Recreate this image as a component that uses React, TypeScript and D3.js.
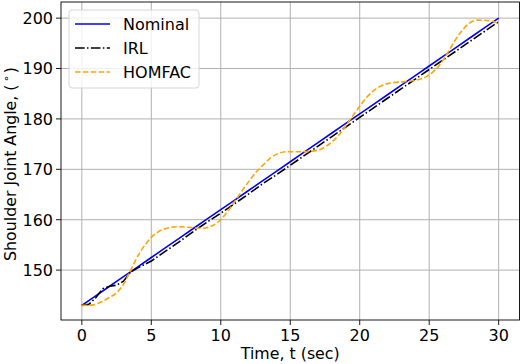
import React from "react";
import * as d3 from "d3";

const times = [0, 0.5, 1, 1.5, 2, 2.5, 3, 3.5, 4, 5, 6, 7, 8, 9, 10, 11, 12, 13, 14, 15, 16, 17, 18, 19, 20, 21, 22, 23, 24, 25, 26, 27, 28, 29, 30];
const nominal = [143, 143.95, 144.9, 145.85, 146.8, 147.75, 148.7, 149.65, 150.6, 152.5, 154.4, 156.3, 158.2, 160.1, 162, 163.9, 165.8, 167.7, 169.6, 171.5, 173.4, 175.3, 177.2, 179.1, 181, 182.9, 184.8, 186.7, 188.6, 190.5, 192.4, 194.3, 196.2, 198.1, 200];
const irl = [143, 143.2, 144.5, 146.3, 146.8, 147, 147.8, 149.6, 150.4, 151.8, 153.7, 155.6, 157.6, 159.5, 161.3, 163.2, 165.1, 167.1, 168.9, 170.8, 172.7, 174.6, 176.5, 178.4, 180.3, 182.2, 184.1, 186.0, 187.9, 189.8, 191.7, 193.6, 195.5, 197.4, 199.3];

const homfacT = [0, 0.8, 1.5, 2.0, 2.5, 3.0, 3.4, 3.8, 4.2, 4.6, 5.0, 5.5, 6.0, 7.0, 8.0, 8.75, 9.3, 9.7, 10.1, 10.6, 11.1, 11.6, 12.1, 12.6, 13.1, 13.6, 14.1, 14.8, 15.7, 16.5, 17.2, 17.9, 18.5, 19.0, 19.5, 20.0, 20.5, 21.0, 21.5, 22.0, 23.2, 24.1, 24.8, 25.3, 25.8, 26.3, 26.8, 27.3, 27.8, 28.5, 29.4, 29.9];
const homfacV = [143, 143.1, 143.8, 144.6, 145.5, 147.2, 149.3, 151.6, 153.6, 155.2, 156.5, 157.6, 158.2, 158.6, 158.4, 158.3, 158.7, 159.3, 160.3, 162.0, 164.0, 166.0, 167.9, 169.6, 171.0, 172.3, 173.1, 173.5, 173.5, 173.6, 174.0, 175.2, 176.8, 178.6, 180.6, 182.5, 184.3, 185.6, 186.5, 187.0, 187.4, 187.7, 188.4, 189.4, 190.9, 193.0, 195.3, 197.3, 198.8, 199.6, 199.5, 199.0];

const xTicks = [0, 5, 10, 15, 20, 25, 30];
const yTicks = [150, 160, 170, 180, 190, 200];
const seriesNames = ["Nominal", "IRL", "HOMFAC"];

const W = 520;
const H = 364;
const left = 61;
const right = 519.5;
const top = 2;
const bottom = 320;
const FONT = "DejaVu Sans, sans-serif";

export default function App() {
  const x = d3.scaleLinear().domain([-1.5, 31.5]).range([left, right]);
  const y = d3.scaleLinear().domain([140.1, 203.2]).range([bottom, top]);

  const line = d3.line<[number, number]>()
    .x(d => x(d[0]))
    .y(d => y(d[1]));

  const nomPath = line(times.map((t, i) => [t, nominal[i]]))!;
  const irlPath = line(times.map((t, i) => [t, irl[i]]))!;
  const homPath = d3.line<[number, number]>()
    .x(d => x(d[0]))
    .y(d => y(d[1]))
    .curve(d3.curveMonotoneX)(homfacT.map((t, i) => [t, homfacV[i]]))!;

  const styles = [
    { stroke: "#0000ff", dash: "none" },
    { stroke: "#000000", dash: "9.6,2.4,1.5,2.4" },
    { stroke: "#ffa500", dash: "5.5,2.4" },
  ];

  return (
    <svg width={W} height={H} style={{ position: "absolute", left: 0, top: 0 }}>
      <rect width={W} height={H} fill="#fff" />
      {/* grid */}
      {xTicks.map(t => (
        <line key={"gx" + t} x1={x(t)} x2={x(t)} y1={top} y2={bottom} stroke="#b0b0b0" strokeWidth={1} />
      ))}
      {yTicks.map(t => (
        <line key={"gy" + t} x1={left} x2={right} y1={y(t)} y2={y(t)} stroke="#b0b0b0" strokeWidth={1} />
      ))}

      <g fill="none" strokeWidth={1.6}>
        <path d={nomPath} stroke={styles[0].stroke} />
        <path d={irlPath} stroke={styles[1].stroke} strokeDasharray={styles[1].dash} />
        <path d={homPath} stroke={styles[2].stroke} strokeDasharray={styles[2].dash} />
      </g>

      <rect x={left} y={top} width={right - left} height={bottom - top} fill="none" stroke="#000" strokeWidth={0.9} />

      {/* axes */}
      {xTicks.map(t => (
        <g key={"xt" + t}>
          <line x1={x(t)} x2={x(t)} y1={bottom} y2={bottom + 5} stroke="#000" strokeWidth={0.9} />
          <text x={x(t)} y={bottom + 20.5} textAnchor="middle" fontFamily={FONT} fontSize={16}>{t}</text>
        </g>
      ))}
      {yTicks.map(t => (
        <g key={"yt" + t}>
          <line x1={left - 5} x2={left} y1={y(t)} y2={y(t)} stroke="#000" strokeWidth={0.9} />
          <text x={left - 8} y={y(t) + 5.8} textAnchor="end" fontFamily={FONT} fontSize={16}>{t}</text>
        </g>
      ))}

      <text x={(left + right) / 2} y={359} textAnchor="middle" fontFamily={FONT} fontSize={15.8}>Time, t (sec)</text>
      <text transform={`translate(15.5,${(top + bottom) / 2 + 3}) rotate(-90)`} textAnchor="middle" fontFamily={FONT} fontSize={15.8}>
        Shoulder Joint Angle, (<tspan dy={-6} fontSize={11}>{"\u2009∘\u2009"}</tspan><tspan dy={6}>)</tspan>
      </text>

      {/* legend */}
      <rect x={69} y={10} width={130} height={78} rx={3} fill="#fff" fillOpacity={0.8} stroke="#d6d6d6" strokeWidth={1} />
      {seriesNames.map((name, i) => {
        const ly = 24 + i * 24;
        return (
          <g key={name}>
            <line x1={75} x2={110} y1={ly} y2={ly} stroke={styles[i].stroke} strokeWidth={1.6}
              strokeDasharray={styles[i].dash === "none" ? undefined : styles[i].dash} />
            <text x={123} y={ly + 5.8} fontFamily={FONT} fontSize={16}>{name}</text>
          </g>
        );
      })}
    </svg>
  );
}
